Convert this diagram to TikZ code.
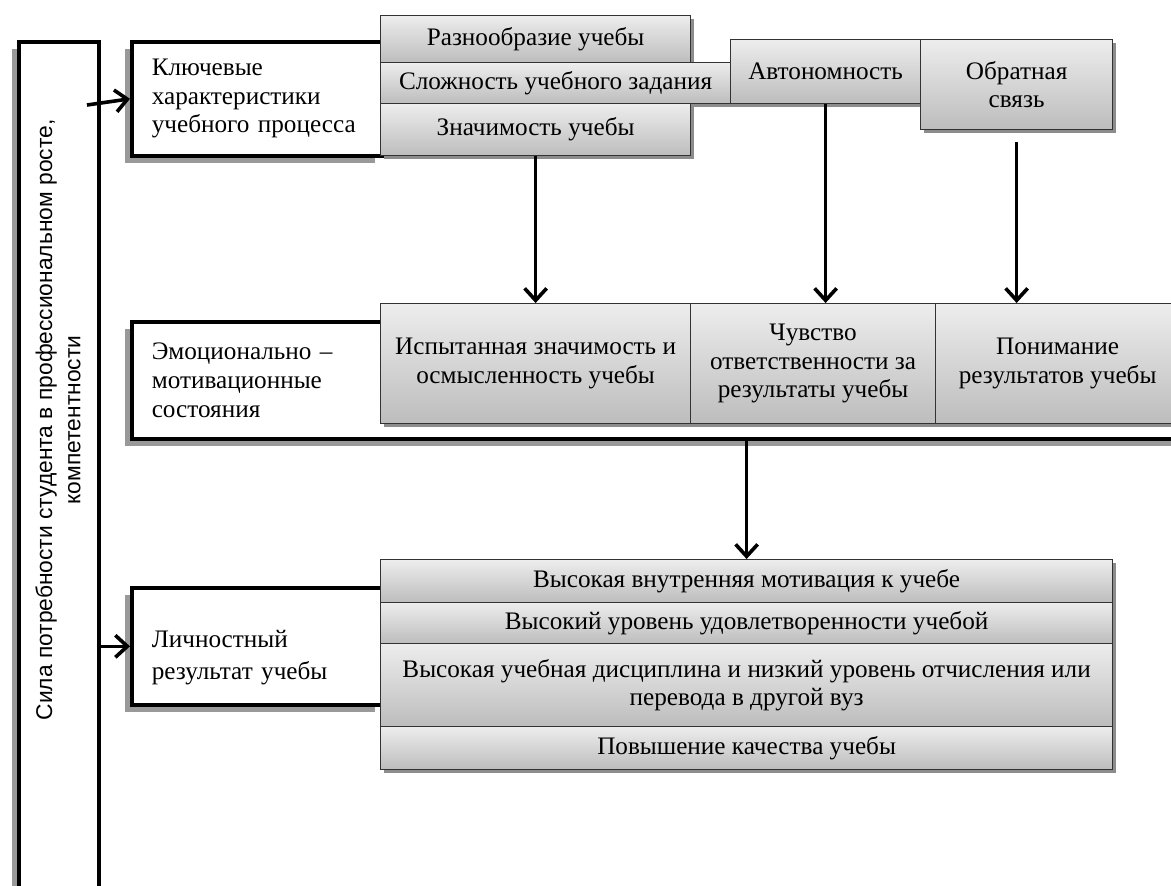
\documentclass[tikz,border=0pt]{standalone}
\usepackage{fontspec}
\setmainfont{Liberation Serif}
\newfontfamily\sidefont{Liberation Sans}
\usetikzlibrary{arrows.meta,shadows}

\tikzset{
  mainbox/.style={draw, line width=1.8pt, fill=white, anchor=north west, align=left,
    inner xsep=10pt,
    drop shadow={shadow xshift=-3.5pt, shadow yshift=-3.5pt, fill=black!40, opacity=1}},
  gradbox/.style={draw=black!80, line width=0.6pt, top color=black!7, bottom color=black!26,
    anchor=north west, align=center, inner sep=0pt,
    drop shadow={shadow xshift=1.5pt, shadow yshift=-1.5pt, fill=black!45, opacity=1}},
  pointer/.style={line width=1.8pt, -{Straight Barb[length=6pt, width=11pt]}},
}

\begin{document}
\begin{tikzpicture}[x=1pt, y=-1pt, font=\fontsize{12.6}{14.3}\selectfont]
	\useasboundingbox (0,0) rectangle (585.5,442.5);

	% left column
	\node[mainbox, minimum width=40pt, minimum height=430pt, inner sep=0pt] (tall) at (8.5,20) {};
	\node[rotate=90, font=\sidefont\fontsize{11.4}{14}\selectfont, align=center] (need) at (29,210)
		{Сила потребности студента в профессиональном росте,\\компетентности};

	% level boxes
	\node[mainbox, minimum height=57pt, text width=105pt] (klu) at (65,20) {Ключевые\\характеристики\\учебного процесса};
	\node[mainbox, minimum height=58.5pt, text width=510pt] (emo) at (65,160) {Эмоционально –\\мотивационные\\состояния};
	\node[mainbox, minimum height=58.5pt, text width=105pt, text depth=7pt] (lich) at (65,293) {Личностный\\[1.5pt]результат учебы};

	% characteristics
	\node[gradbox, minimum width=155pt, minimum height=23.5pt] (raz) at (190,7.5) {Разнообразие учебы};
	\node[gradbox, minimum width=175pt, minimum height=20.5pt] (slo) at (190,31) {Сложность учебного задания};
	\node[gradbox, minimum width=155pt, minimum height=26pt] (zna) at (190,51.5) {Значимость учебы};
	\node[gradbox, minimum width=95pt, minimum height=32pt] (avt) at (365,19.5) {Автономность};
	\node[gradbox, minimum width=96pt, minimum height=45pt] (obr) at (460,19.5) {Обратная\\связь};

	% states
	\node[gradbox, minimum width=155pt, minimum height=60pt] (isp) at (190,151.5) {Испытанная значимость и\\осмысленность учебы};
	\node[gradbox, minimum width=122.5pt, minimum height=60pt] (chu) at (345,151.5) {Чувство\\ответственности за\\результаты учебы};
	\node[gradbox, minimum width=122pt, minimum height=60pt] (pon) at (467.5,151.5) {Понимание\\результатов учебы};

	% results
	\node[gradbox, minimum width=366pt, minimum height=21.5pt] (vys1) at (190,279.5) {Высокая внутренняя мотивация к учебе};
	\node[gradbox, minimum width=366pt, minimum height=20.5pt] (vys2) at (190,301) {Высокий уровень удовлетворенности учебой};
	\node[gradbox, minimum width=366pt, minimum height=41.5pt] (vys3) at (190,321.5) {Высокая учебная дисциплина и низкий уровень отчисления или\\перевода в другой вуз};
	\node[gradbox, minimum width=366pt, minimum height=21.5pt] (vys4) at (190,363) {Повышение качества учебы};

	% arrows
	\coordinate (start) at (43.5,52.5);
	\draw[pointer] (start) -- (klu.west);
	\draw[pointer] (tall.east |- lich.west) -- (lich.west);
	\draw[pointer] (zna.south) -- (isp.north);
	\draw[pointer] (avt.south) -- (avt.south |- chu.north);
	\draw[pointer] ([yshift=-6pt]obr.south) -- (obr.south |- pon.north);
	\draw[pointer] (vys1.north |- emo.south) -- (vys1.north);
\end{tikzpicture}
\end{document}
